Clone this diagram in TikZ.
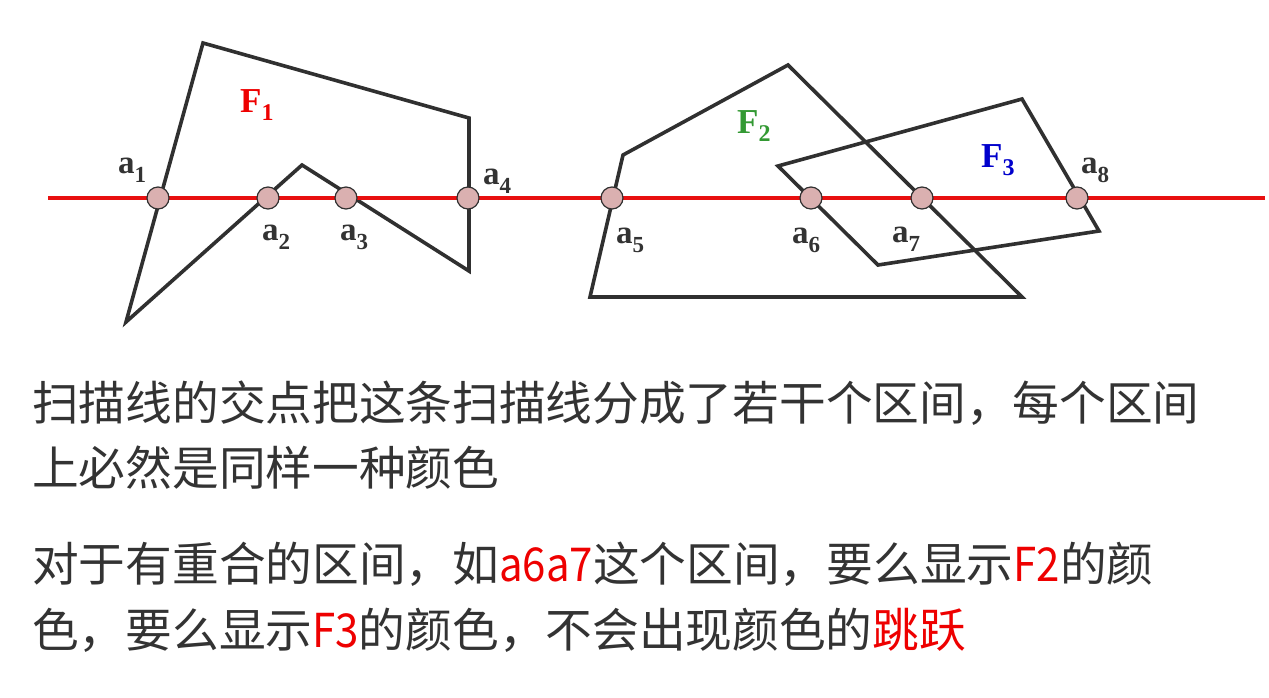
\documentclass[tikz,border=0pt]{standalone}
\usepackage{fontspec}
\setmainfont{Liberation Serif}
\newfontfamily\cjk{Noto Sans CJK SC}
\definecolor{edge}{HTML}{303030}
\definecolor{scan}{HTML}{E81010}
\definecolor{dotfill}{RGB}{218,176,176}
\definecolor{txt}{HTML}{333333}
\definecolor{fone}{HTML}{EE0000}
\definecolor{ftwo}{HTML}{339933}
\definecolor{fthree}{HTML}{0000CC}
\definecolor{hl}{HTML}{EE0000}
\newcommand{\plab}[2]{#1\raisebox{-9pt}{\fontsize{23}{23}\selectfont #2}}
\newcommand{\flab}[2]{#1\raisebox{-8pt}{\fontsize{24}{24}\selectfont #2}}
\newcommand{\hlat}[1]{\textcolor{hl}{\scalebox{0.9}[1]{#1}}}
\begin{document}
\begin{tikzpicture}[x=1pt,y=-1pt,
  poly/.style={draw=edge,line width=3.6pt,line join=miter},
  scanline/.style={draw=scan,line width=3.2pt},
  dot/.style={circle,draw=edge,line width=1.2pt,fill=dotfill,minimum size=22pt,inner sep=0pt},
  plabel/.style={anchor=base west,inner sep=0pt,text=txt,font=\bfseries\fontsize{33}{33}\selectfont},
  flabel/.style={anchor=base west,inner sep=0pt,font=\bfseries\fontsize{35}{35}\selectfont},
  body/.style={anchor=base west,inner sep=0pt,text=txt,font=\cjk\fontsize{46.7}{46.7}\selectfont}]
\useasboundingbox (0,0) rectangle (1269,697);
\fill[white] (0,0) rectangle (1269,697);
% F1 vertices
\coordinate (p1) at (203,43);
\coordinate (p2) at (469,118);
\coordinate (p3) at (469,271);
\coordinate (p4) at (302,165);
\coordinate (p5) at (126,322);
\draw[poly] (p1) -- (p2) -- (p3) -- (p4) -- (p5) -- cycle;
% F2 vertices
\coordinate (q1) at (788,65);
\coordinate (q2) at (1022,297);
\coordinate (q3) at (590,297);
\coordinate (q4) at (623,155);
\draw[poly] (q1) -- (q2) -- (q3) -- (q4) -- cycle;
% F3 vertices
\coordinate (r1) at (778,166);
\coordinate (r2) at (1022,99);
\coordinate (r3) at (1099,231);
\coordinate (r4) at (878,265);
\draw[poly] (r1) -- (r2) -- (r3) -- (r4) -- cycle;
% scan line
\coordinate (sL) at (48,198);
\coordinate (sR) at (1265,198);
\draw[scanline] (sL) -- (sR);
% intersection points
\node[dot] (a1) at (158,198) {};
\node[dot] (a2) at (268,198) {};
\node[dot] (a3) at (346,198) {};
\node[dot] (a4) at (468,198) {};
\node[dot] (a5) at (612,198) {};
\node[dot] (a6) at (811,198) {};
\node[dot] (a7) at (922,198) {};
\node[dot] (a8) at (1077,198) {};
% point labels
\node[plabel] (l1) at (118,173) {\plab{a}{1}};
\node[plabel] (l2) at (262,240) {\plab{a}{2}};
\node[plabel] (l3) at (340,240) {\plab{a}{3}};
\node[plabel] (l4) at (483,184) {\plab{a}{4}};
\node[plabel] (l5) at (616,243) {\plab{a}{5}};
\node[plabel] (l6) at (792,243) {\plab{a}{6}};
\node[plabel] (l7) at (892,242) {\plab{a}{7}};
\node[plabel] (l8) at (1081,173) {\plab{a}{8}};
% face labels
\node[flabel,text=fone] (f1) at (240,112) {\flab{F}{1}};
\node[flabel,text=ftwo] (f2) at (737,133) {\flab{F}{2}};
\node[flabel,text=fthree] (f3) at (981,167) {\flab{F}{3}};
% body text
\node[body] (t1) at (32,420) {扫描线的交点把这条扫描线分成了若干个区间，每个区间};
\node[body] (t2) at (32,485) {上必然是同样一种颜色};
\node[body] (t3) at (32,581) {对于有重合的区间，如\hlat{a6a7}这个区间，要么显示\hlat{F2}的颜};
\node[body] (t4) at (32,647) {色，要么显示\hlat{F3}的颜色，不会出现颜色的\textcolor{hl}{跳跃}};
\end{tikzpicture}
\end{document}
